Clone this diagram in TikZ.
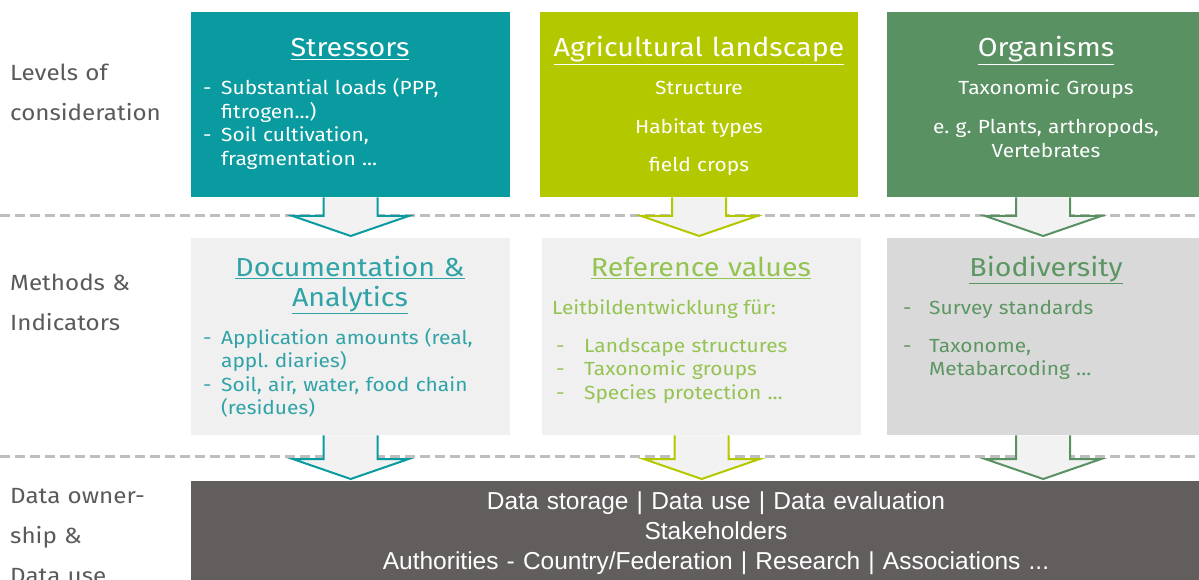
\documentclass[tikz,border=0pt]{standalone}
\usepackage{fontspec}
\setmainfont[FakeStretch=1.1]{Fira Sans}
\newfontfamily\arialfont{Liberation Sans}
\usetikzlibrary{positioning,calc}
\frenchspacing

\definecolor{stresscol}{HTML}{0A9BA0}
\definecolor{landcol}{HTML}{B4C800}
\definecolor{orgcol}{HTML}{5A9162}
\definecolor{docutxt}{HTML}{2FA3A7}
\definecolor{reftxt}{HTML}{94C351}
\definecolor{biotxt}{HTML}{5C9663}
\definecolor{lighttile}{HTML}{F0F0F0}
\definecolor{darktile}{HTML}{D9D9D9}
\definecolor{datacol}{HTML}{635E5E}
\definecolor{labelgrey}{HTML}{5A5A5A}
\definecolor{sepgrey}{HTML}{BEBEBE}
\definecolor{arrowfill}{HTML}{F2F2F2}

\newcommand\dashitem[2][18pt]{\hangindent=#1\hangafter=1\noindent\makebox[#1][l]{-}#2\par}

\tikzset{
    tile/.style={fill=#1, inner sep=0pt, anchor=north west},
    headtxt/.style={font=\fontsize{26}{30}\selectfont, inner sep=0pt, align=center, text width=330},
    bodytxt/.style={font=\fontsize{19}{23.5}\selectfont, inner sep=0pt},
    lvltxt/.style={font=\fontsize{22}{40}\selectfont, text=labelgrey, inner sep=0pt, align=left, text width=180, anchor=base west},
    datatxt/.style={font=\arialfont\fontsize{24.5}{30}\selectfont, text=white, inner sep=0pt, align=center, text width=800, anchor=base},
    sepline/.style={sepgrey, line width=3pt, dash pattern=on 10pt off 5pt},
    blockarr/.style={fill=arrowfill, draw=#1, line width=2pt, line join=miter}
}

\newcommand\blockarrow[3]{%
    \filldraw[blockarr=#3] let \p1=(#1.south), \p2=(#2.north) in
        (\x1-27pt,\y1) -- (\x1-27pt,\y2+22pt) -- (\x1-58pt,\y2+22pt) -- (\x1,\y2+2pt)
        -- (\x1+58pt,\y2+22pt) -- (\x1+27pt,\y2+22pt) -- (\x1+27pt,\y1);
}

\begin{document}
\begin{tikzpicture}[x=1pt,y=-1pt]
    \useasboundingbox[fill=white] (0,0) rectangle (1199,580);

    % level labels
    \node[lvltxt] (lvlone) at (10,81) {Levels of\\consideration};
    \node[lvltxt] (lvltwo) at (10,290) {Methods \&\\Indicators};
    \node[lvltxt] (lvlthree) at (10,503) {Data owner-\\ship \&\\Data use};

    % separators
    \draw[sepline] (0,216) -- (1199,216);
    \draw[sepline] (0,456) -- (1199,456);

    % first row
    \node[tile=stresscol, minimum width=319, minimum height=185] (stress) at (191,12) {};
    \node[tile=landcol, minimum width=318, minimum height=185] (land) at (540,12) {};
    \node[tile=orgcol, minimum width=312, minimum height=185] (org) at (887,12) {};

    % second row
    \node[tile=lighttile, minimum width=319, minimum height=197] (docu) at (191,238) {};
    \node[tile=lighttile, minimum width=319, minimum height=197] (refv) at (542,238) {};
    \node[tile=darktile, minimum width=312, minimum height=197] (bio) at (887,238) {};

    % third row
    \node[tile=datacol, minimum width=1008, minimum height=104] (data) at (191,481) {};

    \blockarrow{stress}{docu}{stresscol}
    \blockarrow{land}{refv}{landcol}
    \blockarrow{org}{bio}{orgcol}
    \blockarrow{docu}{data}{stresscol}
    \blockarrow{refv}{data}{landcol}
    \blockarrow{bio}{data}{orgcol}

    % texts of the first row
    \node[headtxt, text=white, anchor=base] (stresshead) at (350,57) {\underline{Stressors}};
    \node[bodytxt, text=white, text width=300, align=left, anchor=base west] (stresslist) at (203,95)
        {\dashitem{Substantial loads (PPP,\newline fitrogen...)}\dashitem{Soil cultivation,\newline fragmentation ...}};

    \node[headtxt, text=white, anchor=base] (landhead) at (699,57) {\underline{Agricultural landscape}};
    \node[bodytxt, text=white, text width=300, align=center, anchor=base, font=\fontsize{19}{38.5}\selectfont] (landlist) at (699,95)
        {Structure\\Habitat types\\field crops};

    \node[headtxt, text=white, anchor=base] (orghead) at (1046,57) {\underline{Organisms}};
    \node[bodytxt, text=white, text width=300, align=center, anchor=base] (orgone) at (1046,95) {Taxonomic Groups};
    \node[bodytxt, text=white, text width=300, align=center, anchor=base] (orgtwo) at (1046,134) {e. g. Plants, arthropods,\\Vertebrates};

    % texts of the second row
    \node[headtxt, text=docutxt, anchor=base] (docuhead) at (350,276) {\underline{Documentation \&}\\[0pt]\underline{Analytics}};
    \node[bodytxt, text=docutxt, text width=300, align=left, anchor=base west] (doculist) at (203,344)
        {\dashitem{Application amounts (real,\newline appl. diaries)}\dashitem{Soil, air, water, food chain\newline (residues)}};

    \node[headtxt, text=reftxt, anchor=base] (refvhead) at (701,276) {\underline{Reference values}};
    \node[bodytxt, text=reftxt, anchor=base west] (refvlead) at (552,314) {Leitbildentwicklung für:};
    \node[bodytxt, text=reftxt, text width=300, align=left, anchor=base west] (refvlist) at (556,352)
        {\dashitem[28pt]{Landscape structures}\dashitem[28pt]{Taxonomic groups}\dashitem[28pt]{Species protection ...}};

    \node[headtxt, text=biotxt, anchor=base] (biohead) at (1046,276) {\underline{Biodiversity}};
    \node[bodytxt, text=biotxt, text width=280, align=left, anchor=base west] (bioone) at (903,314)
        {\dashitem[26pt]{Survey standards}};
    \node[bodytxt, text=biotxt, text width=280, align=left, anchor=base west] (biotwo) at (903,352)
        {\dashitem[26pt]{Taxonome,\newline Metabarcoding ...}};

    % text of the third row
    \node[datatxt] (datalines) at (716,509)
        {Data storage | Data use | Data evaluation\\Stakeholders\\Authorities - Country/Federation | Research | Associations ...};
\end{tikzpicture}
\end{document}
